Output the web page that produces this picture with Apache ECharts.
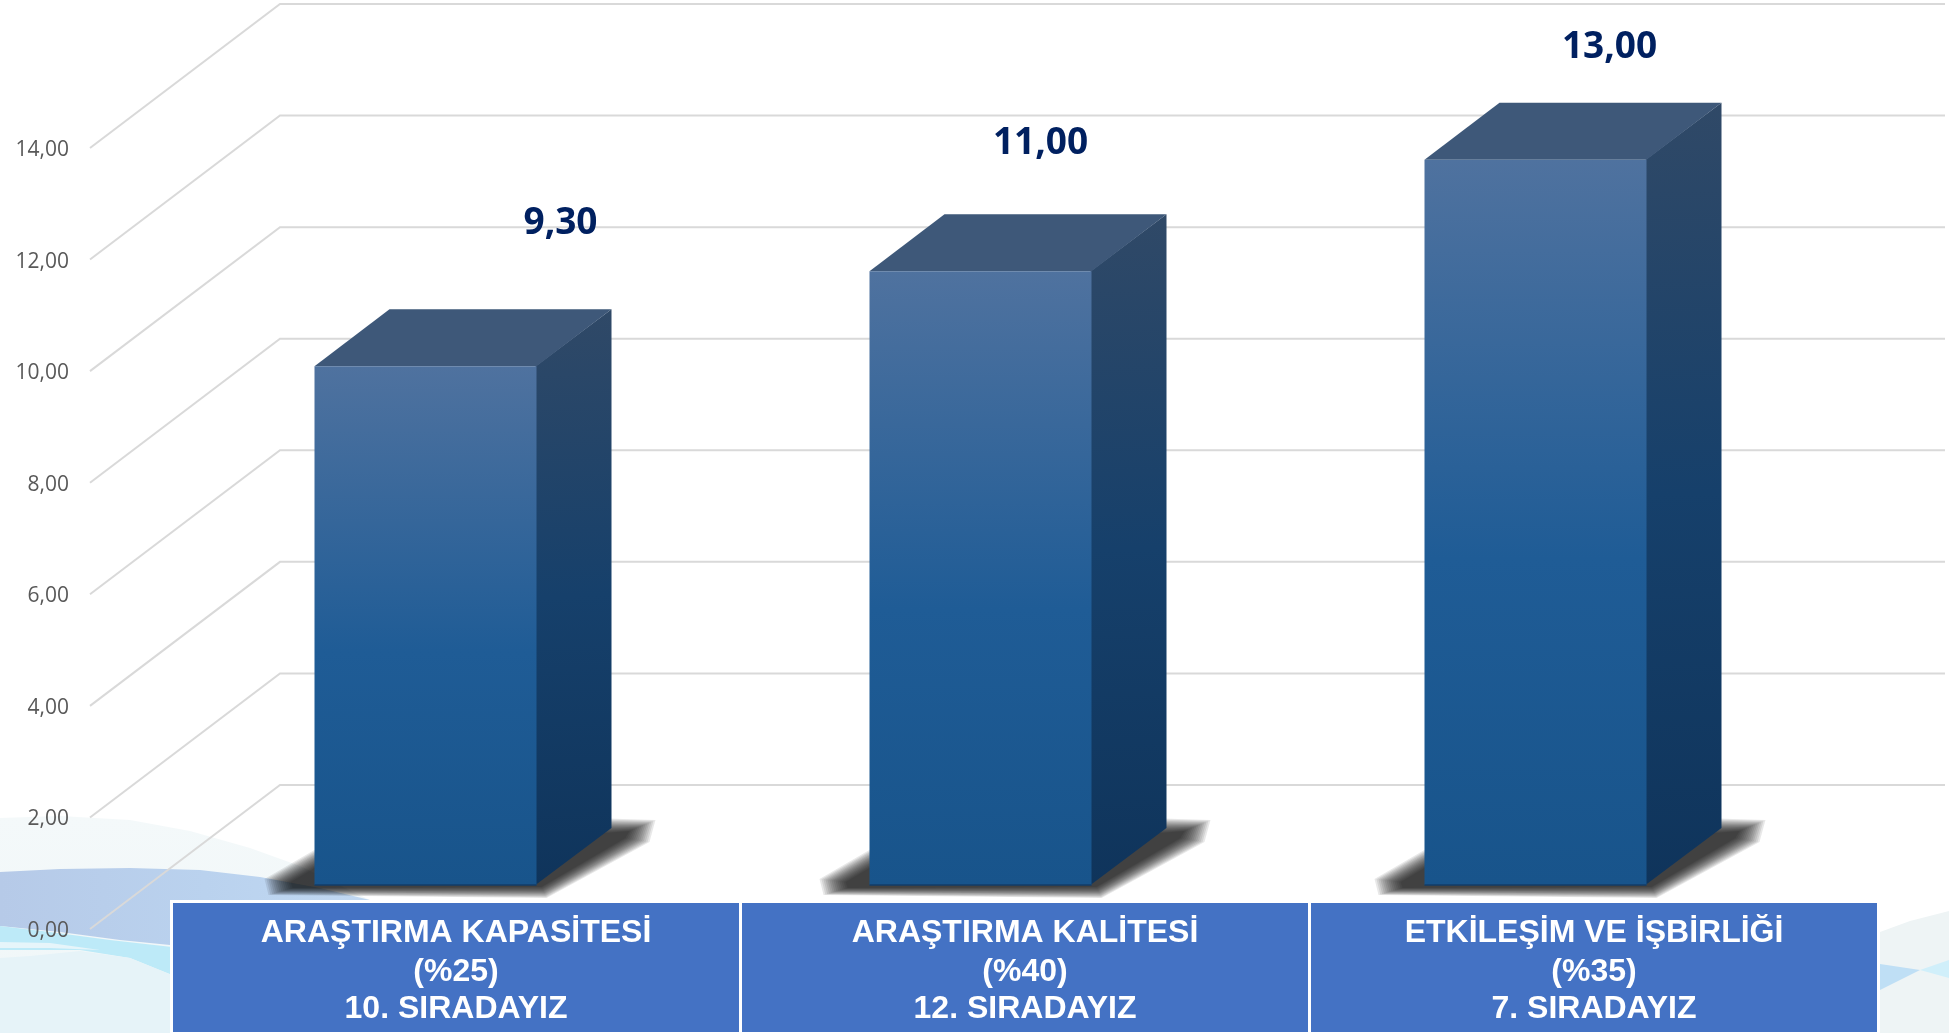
<!DOCTYPE html>
<html>
<head>
<meta charset="utf-8">
<style>html,body{margin:0;padding:0;background:#fff;overflow:hidden}#c{width:1949px;height:1033px}</style>
<script src="https://cdn.jsdelivr.net/npm/echarts@6/dist/echarts.min.js"></script>
</head>
<body>
<div id="c"></div>
<script>
const categories = ["ARAŞTIRMA KAPASİTESİ", "ARAŞTIRMA KALİTESİ", "ETKİLEŞİM VE İŞBİRLİĞİ"];
const weights = ["(%25)", "(%40)", "(%35)"];
const ranks = ["10. SIRADAYIZ", "12. SIRADAYIZ", "7. SIRADAYIZ"];
const values = [9.3, 11, 13];
const ticks = [0, 2, 4, 6, 8, 10, 12, 14];

const fmt = v => v.toFixed(2).replace('.', ',');
const BACK = [190, -144], NEAR = [58, -44], DEPTH = [75, -57];
const labelShift = [[193, -187], [118, -172], [132, -156]];
const lin = (x, y, x2, y2, stops) => ({type: 'linear', x, y, x2, y2, colorStops: stops.map(s => ({offset: s[0], color: s[1]}))});

function gridItem(params, api) {
  const cs = params.coordSys;
  const y = api.coord([0, api.value(1)])[1];
  const x = cs.x;
  return {type: 'polyline', silent: true,
    shape: {points: [[x, y], [x + BACK[0], y + BACK[1]], [x + cs.width + BACK[0], y + BACK[1]]]},
    style: {stroke: '#d9d9d9', lineWidth: 2, fill: null}};
}

// soft cast shadow: stacked translucent polygons from a wide outline to a tight core
function softShadow(xl, xr, yb, dx, dy) {
  const outer = [[xl - 50, yb - 6], [xl - 46, yb + 10], [xr + 10, yb + 13], [xr + dx + 38, yb + dy + 14], [xr + dx + 44, yb + dy - 8], [xr + dx - 20, yb + dy - 10], [xl + 5, yb - 38]];
  const core = [[xl - 24, yb - 3], [xl - 22, yb + 3], [xr + 5, yb + 2], [xr + dx + 14, yb + dy + 10], [xr + dx + 18, yb + dy + 3], [xr + dx - 20, yb + dy + 6], [xl + 5, yb - 20]];
  const layers = [], n = 14;
  for (let k = 0; k < n; k++) {
    const t = k / (n - 1);
    layers.push({type: 'polygon', silent: true,
      shape: {points: outer.map((p, j) => [p[0] + (core[j][0] - p[0]) * t, p[1] + (core[j][1] - p[1]) * t])},
      style: {fill: 'rgba(0,0,0,0.09)'}});
  }
  return layers;
}

function barItem(params, api) {
  const i = api.value(0), v = api.value(1);
  const top = api.coord([i, v]), base = api.coord([i, 0]);
  const w = api.size([1, 0])[0] * 0.4;
  const xl = top[0] - w / 2 + NEAR[0], xr = xl + w;
  const yt = top[1] + NEAR[1], yb = base[1] + NEAR[1];
  const dx = DEPTH[0], dy = DEPTH[1];
  return {type: 'group', children: softShadow(xl, xr, yb, dx, dy).concat([
    {type: 'polygon', shape: {points: [[xr - 1, yt], [xr + dx, yt + dy], [xr + dx, yb + dy], [xr - 1, yb]]},
      style: {fill: lin(0, 0, 0.35, 1, [[0, '#304967'], [0.5, '#16406b'], [1, '#0f345b']])}},
    {type: 'polygon', shape: {points: [[xl, yt], [xl + dx, yt + dy], [xr + dx, yt + dy], [xr, yt]]},
      style: {fill: '#3e5879'}},
    {type: 'rect', shape: {x: xl, y: yt, width: w, height: yb - yt},
      style: {fill: lin(0, 0, 0, 1, [[0, '#4f729f'], [0.55, '#1f5c96'], [1, '#18548b']])}},
    {type: 'line', shape: {x1: xl, y1: yb, x2: xr, y2: yb}, style: {stroke: '#123d68', lineWidth: 1.5}},
    {type: 'text', silent: true,
      style: {text: fmt(v), x: top[0] + labelShift[i][0], y: top[1] + labelShift[i][1], align: 'center', verticalAlign: 'middle',
        font: '700 37px "Open Sans"', fill: '#002060'}}
  ])};
}

const wave = (pts, fill) => ({type: 'polygon', z: -10, silent: true, shape: {points: pts}, style: {fill}});
const background = [
  wave([[0,818],[60,816],[130,820],[190,831],[250,848],[300,866],[345,888],[380,905],[380,1033],[0,1033]],
    lin(0, 0, 0, 1, [[0, '#f4f9fa'], [1, '#eff6f8']])),
  wave([[0,872],[60,869],[130,868],[200,870],[260,877],[320,888],[370,900],[410,912],[170,960],[170,945],[120,940],[60,932],[0,926]],
    lin(0, 0, 1, 0, [[0, '#b6cae8'], [0.5, '#bad2ee'], [1, '#c2daf3']])),
  wave([[0,926],[50,932],[110,940],[172,947],[172,975],[130,958],[80,950],[30,950],[0,950]], '#bdeaf8'),
  wave([[0,942],[50,943],[100,950],[50,948],[0,948]], '#e6f5fa'),
  wave([[0,958],[30,956],[80,951],[130,958],[172,975],[172,1033],[0,1033]], '#e6f3f8'),
  wave([[1880,932],[1910,921],[1949,911],[1949,1033],[1880,1033]], '#eef4f5'),
  wave([[1880,964],[1920,970],[1880,990]], '#bfdff5'),
  wave([[1920,970],[1949,960],[1949,978]], '#d0effa')
];

const cellX = [[173, 739], [742, 1308], [1311, 1877]];
const table = [{type: 'rect', z: 20, silent: true, shape: {x: 170, y: 900, width: 1710, height: 133}, style: {fill: '#ffffff'}}];
const lineY = [933, 972, 1009];
cellX.forEach((c, i) => {
  table.push({type: 'rect', z: 21, silent: true, shape: {x: c[0], y: 903, width: c[1] - c[0], height: 129}, style: {fill: '#4472c4'}});
  [categories[i], weights[i], ranks[i]].forEach((t, j) => {
    table.push({type: 'text', z: 22, silent: true, x: (c[0] + c[1]) / 2, y: lineY[j],
      style: {text: t, x: 0, y: 0, align: 'center', verticalAlign: 'middle', font: 'bold 32px "Liberation Sans"', fill: '#ffffff'}});
  });
});

const chart = echarts.init(document.getElementById('c'), null, {renderer: 'canvas'});
chart.setOption({
  animation: false,
  backgroundColor: '#ffffff',
  grid: {left: 90, width: 1665, top: 148, height: 781},
  xAxis: {type: 'category', data: categories, show: false},
  yAxis: {type: 'value', min: 0, max: 14, interval: 2,
    axisLine: {show: false}, axisTick: {show: false}, splitLine: {show: false},
    axisLabel: {formatter: fmt, fontFamily: 'Open Sans', fontSize: 21, color: '#595959', margin: 21, verticalAlign: 'top', lineHeight: 4}},
  graphic: {elements: background.concat(table)},
  series: [
    {type: 'custom', z: 1, clip: false, silent: true, renderItem: gridItem, encode: {x: 0, y: 1},
      data: ticks.map(t => [0, t])},
    {type: 'custom', z: 2, clip: false, silent: true, renderItem: barItem, encode: {x: 0, y: 1},
      data: values.map((v, i) => [i, v])}
  ]
});
</script>
</body>
</html>
